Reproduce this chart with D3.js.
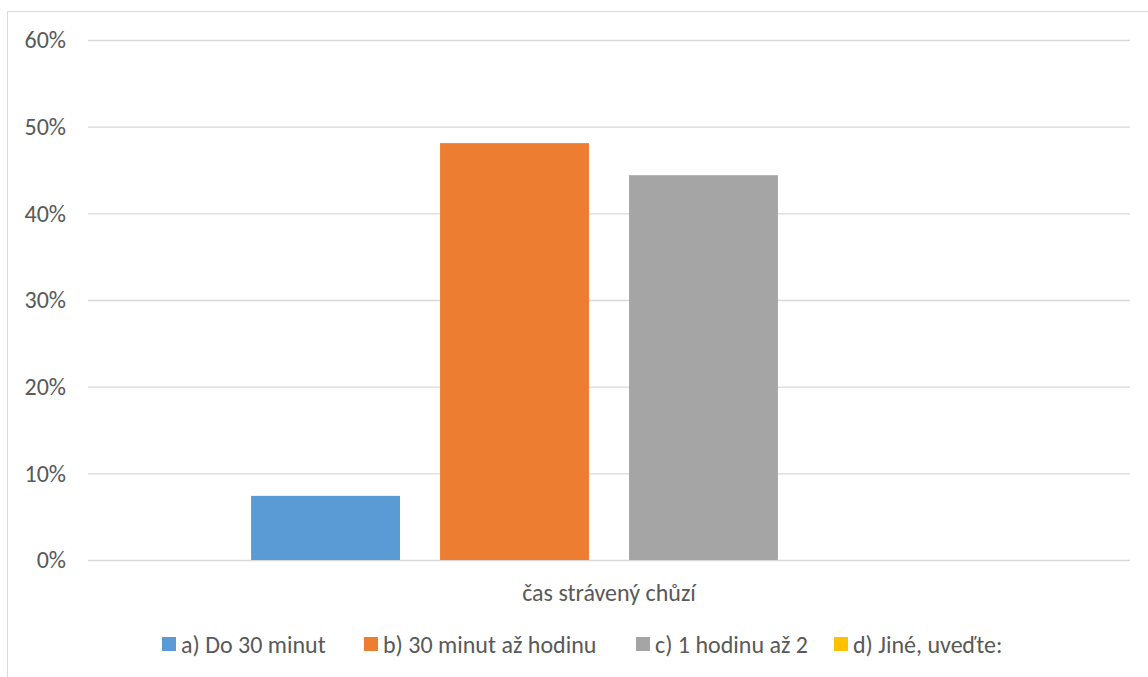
<!DOCTYPE html>
<html><head><meta charset="utf-8">
<script src="https://cdn.jsdelivr.net/npm/d3@7"></script>
<style>
html,body{margin:0;padding:0;background:#fff;}
svg{display:block;font-family:Carlito,Calibri,Lato,sans-serif;}
</style></head>
<body><svg id="c" width="1148" height="677"></svg>
<script>
const series = ["a) Do 30 minut","b) 30 minut až hodinu","c) 1 hodinu až 2","d) Jiné, uveďte:"];
const values = [0.074, 0.481, 0.444, 0];
const colors = ["#5b9bd5","#ed7d31","#a5a5a5","#ffc000"];
const yTicks = [0,0.1,0.2,0.3,0.4,0.5,0.6];
const category = "čas strávený chůzí";

const svg = d3.select("#c");
const W=1148,H=677;
const L=88,R=1130,T=40,B=560;
const fs = 24;

// border
svg.append("path").attr("d",`M7.5,${H} V11.5 H${W}`).attr("fill","none").attr("stroke","#d9d9d9").attr("stroke-width",1);

const y = d3.scaleLinear().domain([0,0.6]).range([B,T]);
const x = d3.scaleBand().domain(series).range([L,R]).paddingInner(0.212).paddingOuter(0.863);

const g = svg.append("g");
const yAxis = d3.axisLeft(y).tickValues(yTicks).tickFormat(d3.format(".0%")).tickSize(-(R-L)).tickPadding(22);
const ya = g.append("g").attr("transform",`translate(${L},0)`).call(yAxis);
ya.select(".domain").remove();
ya.selectAll(".tick line").attr("stroke","#d9d9d9").attr("stroke-width",1.3);
ya.selectAll(".tick text").attr("fill","#595959").style("font-size",fs+"px").style("font-family","Carlito,Calibri,Lato,sans-serif");

g.selectAll("rect.bar").data(series).enter().append("rect").attr("class","bar")
 .attr("x",d=>x(d)).attr("width",x.bandwidth())
 .attr("y",(d,i)=>y(values[i])).attr("height",(d,i)=>B-y(values[i]))
 .attr("fill",(d,i)=>colors[i]);

svg.append("text").attr("x",(L+R)/2).attr("y",592).attr("text-anchor","middle").attr("dominant-baseline","central")
 .attr("fill","#595959").style("font-size",fs+"px").text(category);

// legend
const legX = [162,364,636,834];
const lg = svg.append("g");
series.forEach((s,i)=>{
  lg.append("rect").attr("x",legX[i]).attr("y",637).attr("width",14).attr("height",14).attr("fill",colors[i]);
  lg.append("text").attr("x",legX[i]+19).attr("y",644).attr("dominant-baseline","central")
    .attr("fill","#595959").style("font-size",fs+"px").text(s);
});
</script></body></html>
